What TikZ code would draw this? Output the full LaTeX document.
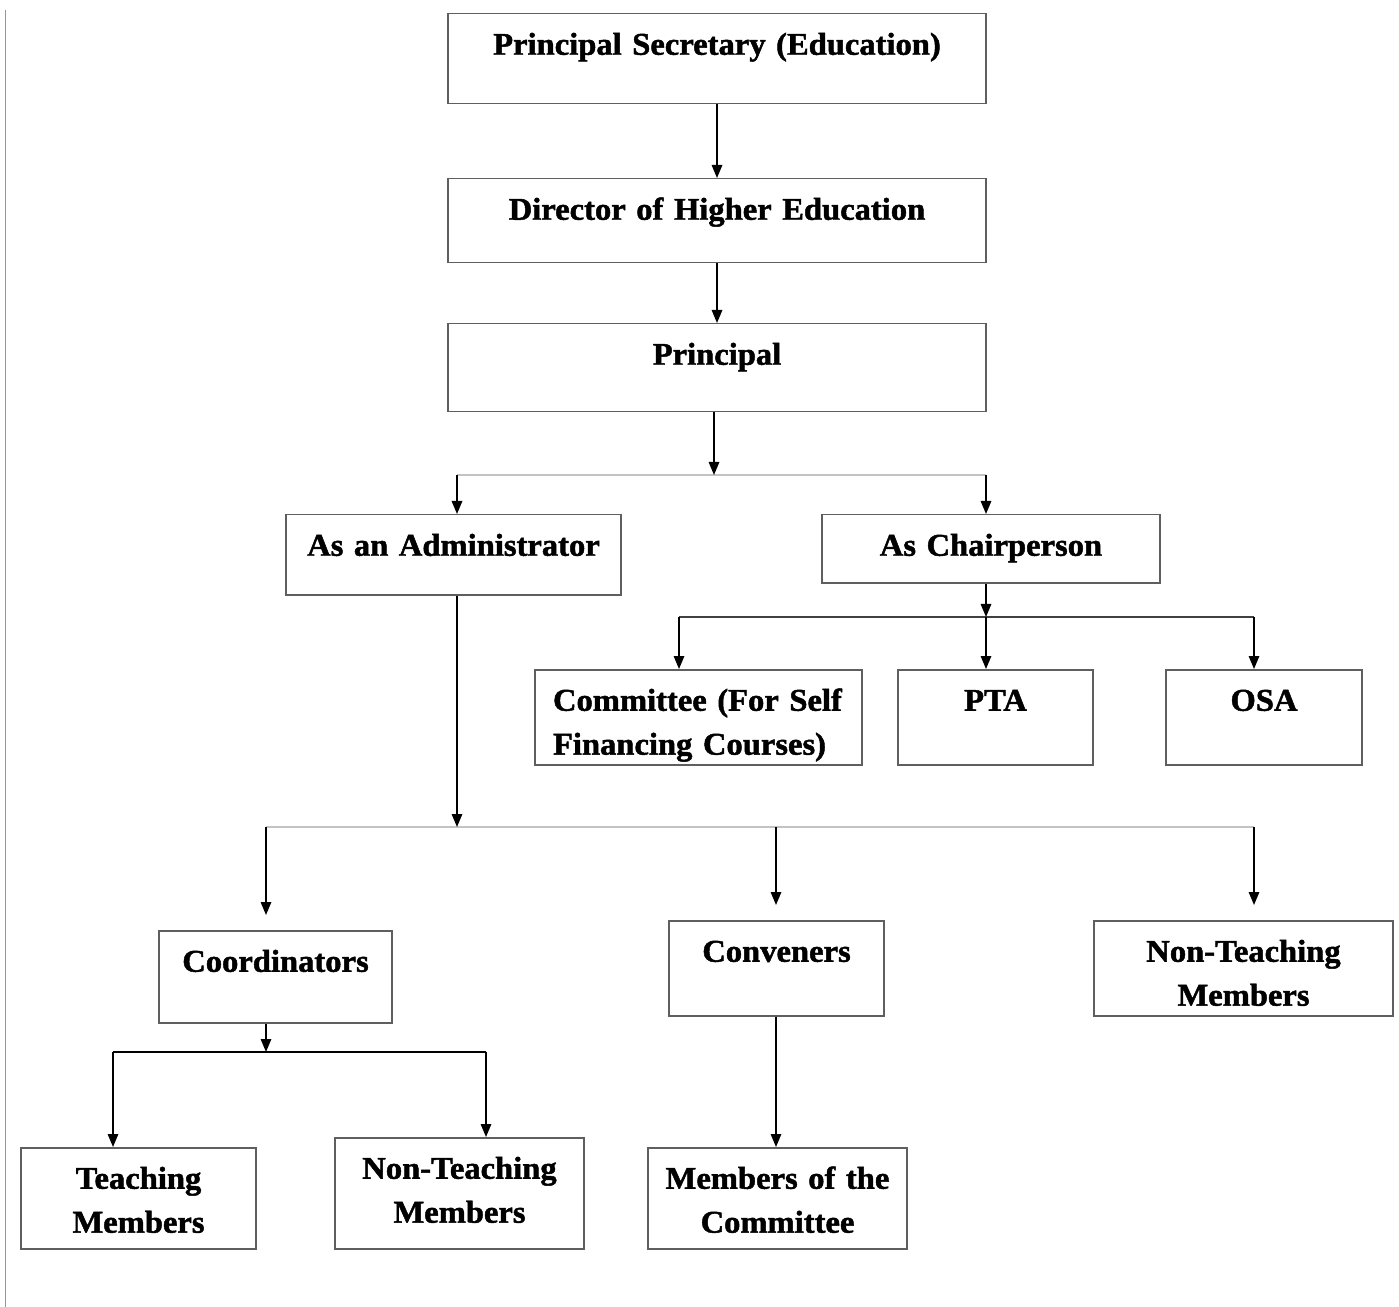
\documentclass[tikz,border=0pt]{standalone}
\usepackage{fontspec}
\setmainfont{Liberation Serif}[BoldFeatures={FakeBold=1.5, FakeStretch=1.03}, WordSpace=0.6]
\usetikzlibrary{arrows.meta}

\definecolor{boxgray}{RGB}{95,95,95}
\definecolor{busgray}{RGB}{195,195,195}
\definecolor{edgegray}{RGB}{150,150,150}

\newcommand{\boxfont}{\fontsize{18}{25}\selectfont\bfseries}

\tikzset{
    box/.style={draw=boxgray, line width=0.3mm, anchor=north, inner sep=0pt,
        align=center, text height=8.2mm, font=\boxfont},
    arr/.style={->, line width=0.3mm},
    bus/.style={line width=0.4mm, draw=busgray}
}

\begin{document}
\begin{tikzpicture}[x=0.2mm, y=-0.2mm, >={Triangle[length=2.6mm, width=2.1mm]}]
    \useasboundingbox (0,0) rectangle (1399,1307);

    % --- left margin line ---
    \draw[edgegray, line width=0.2mm] (5.5,10) -- (5.5,1307);

    % --- top chain ---
    \node[box, text width=107.6mm, text depth=9.8mm] (ps) at (717,13) {Principal Secretary (Education)};
    \node[box, text width=107.6mm, text depth=8.6mm] (dhe) at (717,178) {Director of Higher Education};
    \node[box, text width=107.6mm, text depth=9.4mm] (prin) at (717,323) {Principal};

    % --- second level ---
    \node[box, text width=67mm, text depth=7.8mm] (adm) at (453.5,514) {As an Administrator};
    \node[box, text width=67.6mm, text depth=5.4mm] (chair) at (991,514) {As Chairperson};

    % --- chairperson branch ---
    \node[box, text width=58.2mm, text depth=10.8mm, align=left, inner xsep=3.6mm] (cmt) at (698.5,669)
        {\mbox{Committee (For Self}\\Financing Courses)};
    \node[box, text width=39mm, text depth=10.8mm] (pta) at (995.5,669) {PTA};
    \node[box, text width=39.2mm, text depth=10.8mm] (osa) at (1264,669) {OSA};

    % --- administrator branch ---
    \node[box, text width=46.6mm, text depth=10.2mm] (coord) at (275.5,930) {Coordinators};
    \node[box, text width=43mm, text depth=10.8mm] (conv) at (776.5,920) {Conveners};
    \node[box, text width=59.8mm, text depth=10.8mm] (ntr) at (1243.5,920) {Non-Teaching\\Members};

    % --- bottom row ---
    \node[box, text width=47mm, text depth=12mm] (tch) at (138.5,1147) {Teaching\\Members};
    \node[box, text width=49.8mm, text depth=14mm] (ntm) at (459.5,1137) {Non-Teaching\\Members};
    \node[box, text width=51.8mm, text depth=12mm] (moc) at (777.5,1147) {Members of the\\Committee};

    % --- junction points ---
    \coordinate (j1) at (714,475);
    \coordinate (b1l) at (457,475);
    \coordinate (b1r) at (986,475);
    \coordinate (j2) at (986,617);
    \coordinate (b2l) at (679,617);
    \coordinate (b2r) at (1254,617);
    \coordinate (j3) at (457,827);
    \coordinate (b3l) at (266,827);
    \coordinate (b3m) at (776,827);
    \coordinate (b3r) at (1254,827);
    \coordinate (j4) at (266,1052);
    \coordinate (b4l) at (113,1052);
    \coordinate (b4r) at (486,1052);

    % --- connectors ---
    \draw[arr] (ps.south) -- (dhe.north);
    \draw[arr] (dhe.south) -- (prin.north);

    \draw[bus] (b1l) -- (b1r);
    \draw[arr] (prin.south -| j1) -- (j1);
    \draw[arr] (b1l) -- (b1l |- adm.north);
    \draw[arr] (b1r) -- (b1r |- chair.north);

    \draw[line width=0.4mm, draw=black!75] (b2l) -- (b2r);
    \draw[arr] (chair.south -| j2) -- (j2);
    \draw[arr] (b2l) -- (b2l |- cmt.north);
    \draw[arr] (j2) -- (j2 |- pta.north);
    \draw[arr] (b2r) -- (b2r |- osa.north);

    \draw[bus] (b3l) -- (b3r);
    \draw[arr] (adm.south -| j3) -- (j3);
    \draw[arr, shorten >=3mm] (b3l) -- (b3l |- coord.north);
    \draw[arr, shorten >=3mm] (b3m) -- (b3m |- conv.north);
    \draw[arr, shorten >=3mm] (b3r) -- (b3r |- ntr.north);

    \draw[line width=0.3mm] (b4l) -- (b4r);
    \draw[arr] (coord.south -| j4) -- (j4);
    \draw[arr] (b4l) -- (b4l |- tch.north);
    \draw[arr] (b4r) -- (b4r |- ntm.north);

    \draw[arr] (conv.south -| b3m) -- (b3m |- moc.north);
\end{tikzpicture}
\end{document}
